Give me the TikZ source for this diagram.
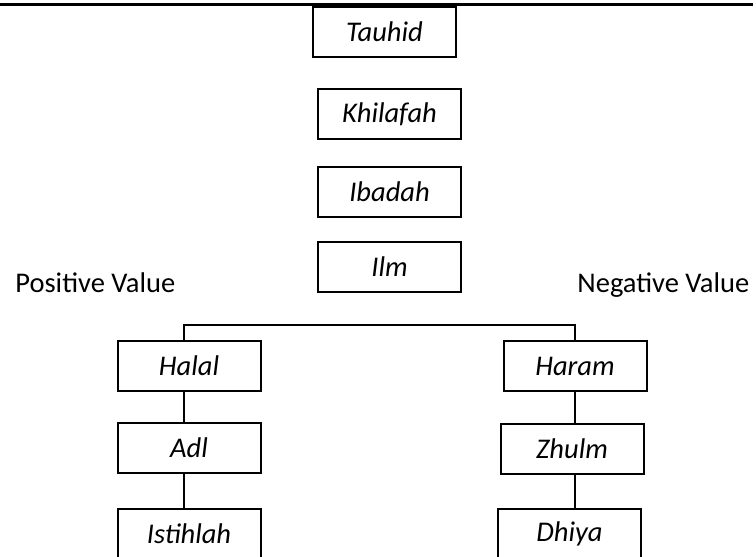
\documentclass[tikz,border=0pt]{standalone}
\usepackage{fontspec}
\setmainfont{Carlito}
\usepackage{tikz}
\usetikzlibrary{positioning}
\tikzset{
valbox/.style={draw, line width=1pt, minimum width=71.5pt, minimum height=25pt, inner sep=0pt, font=\itshape},
valtxt/.style={inner sep=0pt, anchor=base west},
link/.style={line width=0.8pt}
}

\begin{document}
\begin{tikzpicture}[x=0.5pt, y=-0.5pt]
	\fontsize{14.25}{17}\selectfont
	\useasboundingbox (0,0) rectangle (756,557);
	\draw[line width=1.5pt] (0,4.5) -- (753,4.5);

	\node[valbox] (tauhid) at (384.5,32) {Tauhid};
	\node[valbox] (khilafah) at (389.5,114) {Khilafah};
	\node[valbox] (ibadah) at (389.5,192) {Ibadah};
	\node[valbox] (ilm) at (389.5,267) {Ilm};

	\node[valtxt] (pos) at (15,292) {Positive Value};
	\node[valtxt] (neg) at (577,292) {Negative Value};

	\node[valbox] (halal) at (189,366) {Halal};
	\node[valbox] (adl) at (189,448) {Adl};
	\node[valbox] (istihlah) at (189,534) {Istihlah};
	\node[valbox] (haram) at (575,366) {Haram};
	\node[valbox] (zhulm) at (572,448.5) {Zhulm};
	\node[valbox] (dhiya) at (569.5,534) {Dhiya};

	\coordinate (busL) at (184,325);
	\coordinate (busR) at (575,325);
	\draw[link] (halal.north -| busL) |- (busR) -- (haram.north -| busR);
	\draw[link] (halal.south -| busL) -- (adl.north -| busL) (adl.south -| busL) -- (istihlah.north -| busL);
	\draw[link] (haram.south -| busR) -- (zhulm.north -| busR) (zhulm.south -| busR) -- (dhiya.north -| busR);
\end{tikzpicture}
\end{document}
